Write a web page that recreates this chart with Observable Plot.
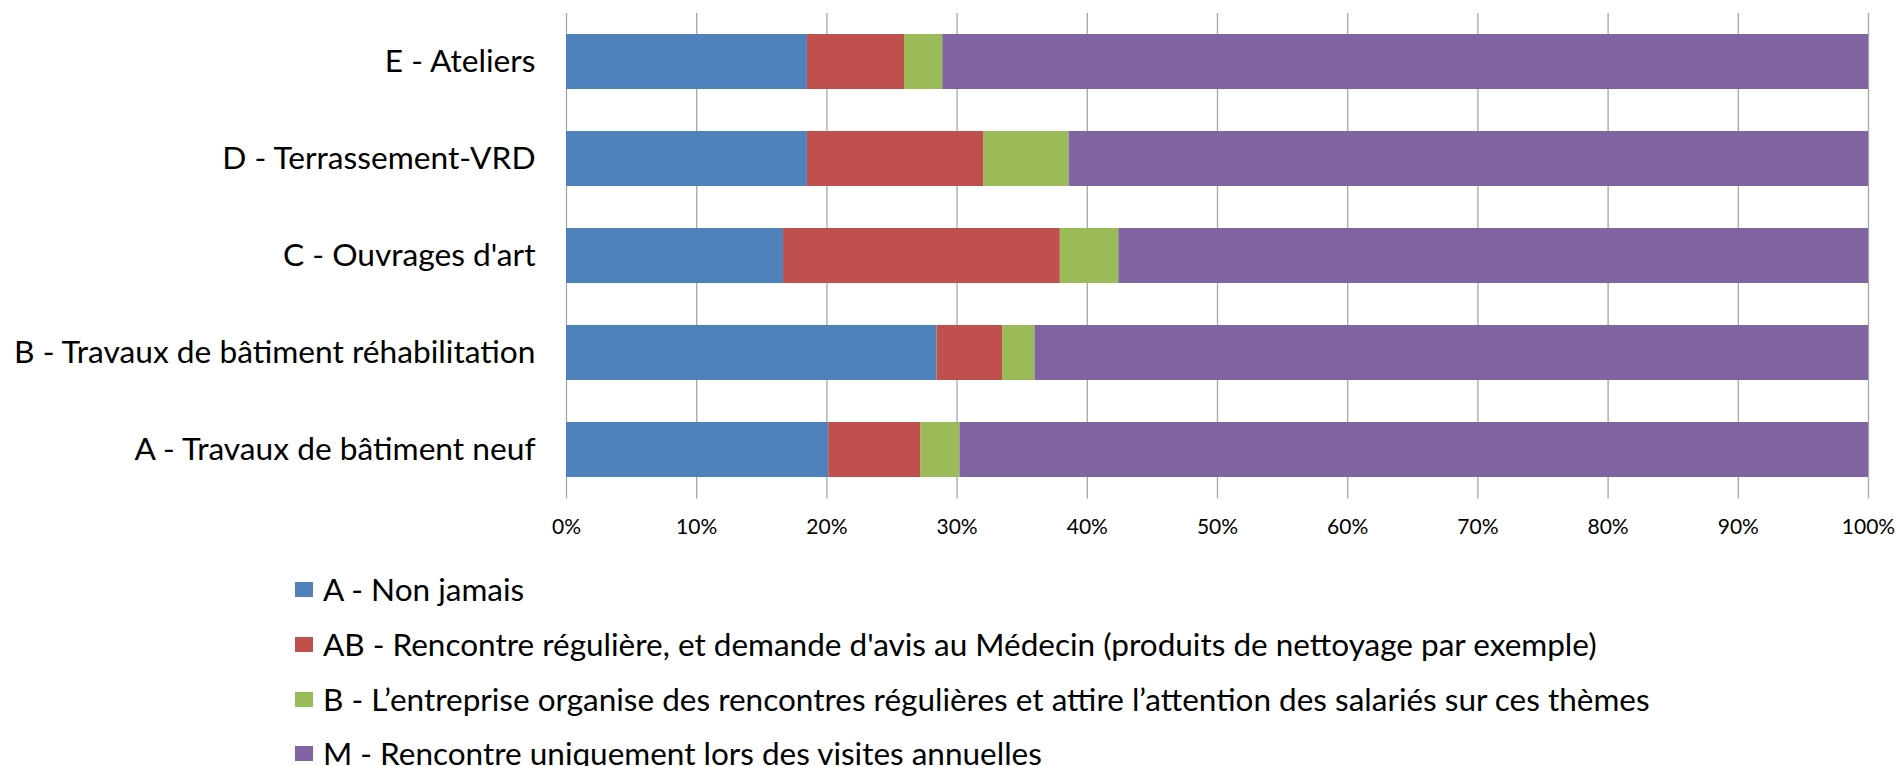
<!DOCTYPE html>
<html>
<head>
<meta charset="utf-8">
<script src="https://cdn.jsdelivr.net/npm/d3@7"></script>
<script src="https://cdn.jsdelivr.net/npm/@observablehq/plot@0.6"></script>
<style>
  html, body { margin: 0; padding: 0; background: #fff; }
  body { width: 1901px; height: 766px; overflow: hidden; position: relative; font-family: Lato, sans-serif; }
  #legend { position: absolute; left: 0; top: 0; width: 1901px; }
  .row { position: absolute; left: 295px; height: 40px; display: flex; align-items: center; white-space: nowrap; font-size: 31.5px; color: #000; }
  .sw { width: 18px; height: 15px; margin-right: 10px; flex: none; }
</style>
</head>
<body>
<div id="chart"></div>
<div id="legend"></div>
<script>
// Categories, top to bottom
const categories = [
  "E - Ateliers",
  "D - Terrassement-VRD",
  "C - Ouvrages d'art",
  "B - Travaux de bâtiment réhabilitation",
  "A - Travaux de bâtiment neuf"
];
// Series (left to right in the stack)
const seriesNames = [
  "A - Non jamais",
  "AB - Rencontre régulière, et demande d'avis au Médecin (produits de nettoyage par exemple)",
  "B - L’entreprise organise des rencontres régulières et attire l’attention des salariés sur ces thèmes",
  "M - Rencontre uniquement lors des visites annuelles"
];
const seriesColors = ["#4f81bd", "#c0504d", "#9bbb59", "#8064a2"];
// Values in %, same order as categories
const nonJamais      = [18.50, 18.50, 16.67, 28.46, 20.14];
const rencontreAvis  = [ 7.46, 13.57, 21.26,  5.03,  7.09];
const entreprise     = [ 2.94,  6.53,  4.49,  2.49,  2.99];
const visites        = [71.10, 61.40, 57.58, 64.02, 69.78];
const xTicks = [0, 10, 20, 30, 40, 50, 60, 70, 80, 90, 100];

const seriesValues = [nonJamais, rencontreAvis, entreprise, visites];
const data = [];
categories.forEach((c, i) => {
  seriesNames.forEach((s, j) => {
    data.push({category: c, series: s, value: seriesValues[j][i]});
  });
});

const chart = Plot.plot({
  width: 1901,
  height: 560,
  marginTop: 13,
  marginBottom: 61.5,
  marginLeft: 566,
  marginRight: 33,
  style: {fontFamily: "Lato, sans-serif", color: "#000", background: "#fff"},
  x: {domain: [0, 100]},
  y: {domain: categories, paddingInner: 0.428, paddingOuter: 0.214},
  color: {domain: seriesNames, range: seriesColors},
  marks: [
    Plot.gridX(xTicks, {stroke: "#a6a6a6", strokeOpacity: 1, strokeWidth: 1.3}),
    Plot.barX(data, {x: "value", y: "category", fill: "series", inset: 0}),
    Plot.axisX({ticks: xTicks, tickSize: 0, tickPadding: 20, fontSize: 21, tickFormat: d => d + "%", label: null, fill: "#000"}),
    Plot.axisY({tickSize: 0, tickPadding: 31, fontSize: 31.7, label: null, fill: "#000"})
  ]
});
document.getElementById("chart").appendChild(chart);

// Legend below the chart
const legendTops = [589, 644, 699, 753];
const legend = document.getElementById("legend");
seriesNames.forEach((s, j) => {
  const row = document.createElement("div");
  row.className = "row";
  row.style.top = (legendTops[j] - 20) + "px";
  const sw = document.createElement("span");
  sw.className = "sw";
  sw.style.background = seriesColors[j];
  const tx = document.createElement("span");
  tx.textContent = s;
  row.appendChild(sw);
  row.appendChild(tx);
  legend.appendChild(row);
});
</script>
</body>
</html>
